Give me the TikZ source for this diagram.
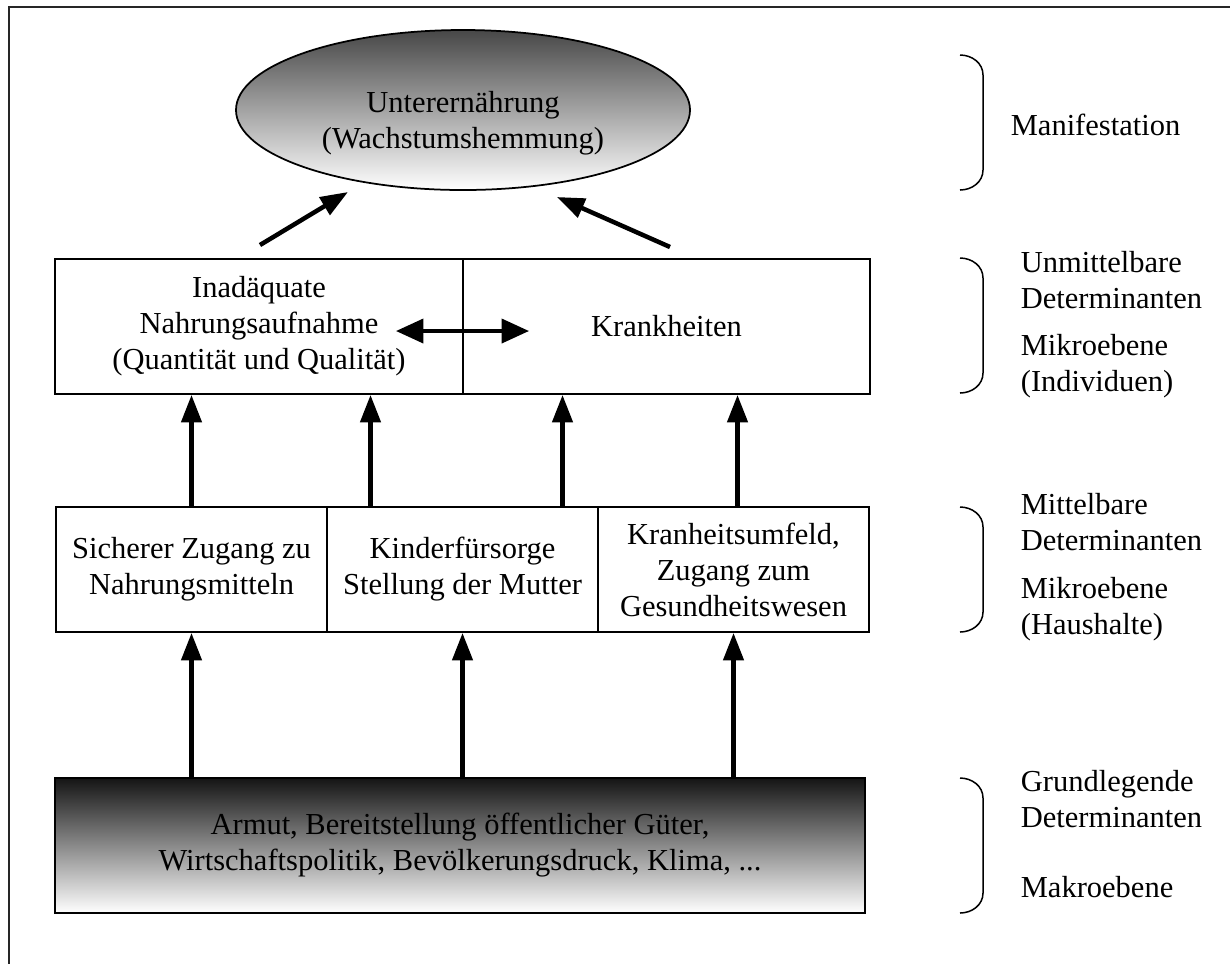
\documentclass[tikz,border=0pt]{standalone}
\usepackage{fontspec}
\setmainfont{Liberation Serif}
\usetikzlibrary{positioning, calc, shapes.geometric, arrows.meta}

\begin{document}
\begin{tikzpicture}[x=0.4pt, y=-0.4pt, font=\fontsize{12.2}{14.4}\selectfont,
		box/.style={draw, line width=0.7pt, inner sep=0pt, align=center},
		arr/.style={-{Triangle[length=11pt, width=8pt]}, line width=1.8pt},
		darr/.style={{Triangle[length=11pt, width=9.5pt]}-{Triangle[length=11pt, width=9.5pt]}, line width=1.8pt},
		ebene/.style={anchor=west, align=left}]
			\useasboundingbox (0,0) rectangle (1230,963);
			\draw [line width=0.8pt, black!85] (9,975) -- (9,7) -- (1240,7);
			
			\node (ell) [draw, ellipse, line width=0.7pt, top color=black!72, bottom color=white, minimum width=181.6pt, minimum height=64pt] at (463,110) {};
			\node (ut) [align=center] at (463,123) {Unterernährung\\(Wachstumshemmung)};
			
			\node (nahr) [box, minimum width=163.2pt, minimum height=54pt] at (259,326.5) {Inadäquate\\Nahrungsaufnahme\\(Quantität und Qualität)};
			\node (krank) [box, minimum width=162.8pt, minimum height=54pt] at (666.5,326.5) {Krankheiten};
			
			\node (sich) [box, minimum width=108.4pt, minimum height=50pt] at (191.5,569.5) {Sicherer Zugang zu\\Nahrungsmitteln};
			\node (kind) [box, minimum width=108.4pt, minimum height=50pt] at (462.5,569.5) {Kinderfürsorge\\Stellung der Mutter};
			\node (umf) [box, minimum width=108.4pt, minimum height=50pt] at (733.5,569.5) {Kranheitsumfeld,\\Zugang zum\\Gesundheitswesen};
			
			\node (armut) [box, top color=black!92, bottom color=white, minimum width=324pt, minimum height=54pt] at (460,845.5) {Armut, Bereitstellung öffentlicher Güter,\\Wirtschaftspolitik, Bevölkerungsdruck, Klima, ...};
			
			% Pfeile zur Unterernaehrung
			\coordinate (a1) at (260,245);
			\coordinate (a2) at (348,192);
			\coordinate (b1) at (670,247);
			\coordinate (b2) at (557,197);
			\draw [arr] (a1) -- (a2);
			\draw [arr] (b1) -- (b2);
			\draw [darr] ($(nahr.east)+(-68,4.5)$) -- ($(krank.west)+(67,4.5)$);
			
			\draw [arr] (sich.north) -- (sich.north |- nahr.south);
			\draw [arr] ($(kind.north)+(-92,0)$) -- ($(kind.north |- nahr.south)+(-92,0)$);
			\draw [arr] ($(kind.north)+(100,0)$) -- ($(kind.north |- krank.south)+(100,0)$);
			\draw [arr] ($(umf.north)+(4,0)$) -- ($(umf.north |- krank.south)+(4,0)$);
			
			\draw [arr] (sich.south |- armut.north) -- (sich.south);
			\draw [arr] (kind.south |- armut.north) -- (kind.south);
			\draw [arr] (umf.south |- armut.north) -- (umf.south);
			
			% Klammern und Ebenen
			\foreach \a/\b in {55/190, 258/393, 507/632, 778/913}
				\draw [line width=0.6pt] (960,\a) to[out=0, in=90] (983,\a+20) -- (983,\b-20) to[out=-90, in=0] (960,\b);
			\node (manif) [ebene] at (1002,125) {Manifestation};
			\node (unm) [ebene] at (1012,325) {Unmittelbare\\Determinanten\\[4.5pt]Mikroebene\\(Individuen)};
			\node (mitt) [ebene] at (1012,567) {Mittelbare\\Determinanten\\[5pt]Mikroebene\\(Haushalte)};
			\node (grund) [ebene] at (1012,834) {Grundlegende\\Determinanten\\[13.5pt]Makroebene};
		\end{tikzpicture}
\end{document}
